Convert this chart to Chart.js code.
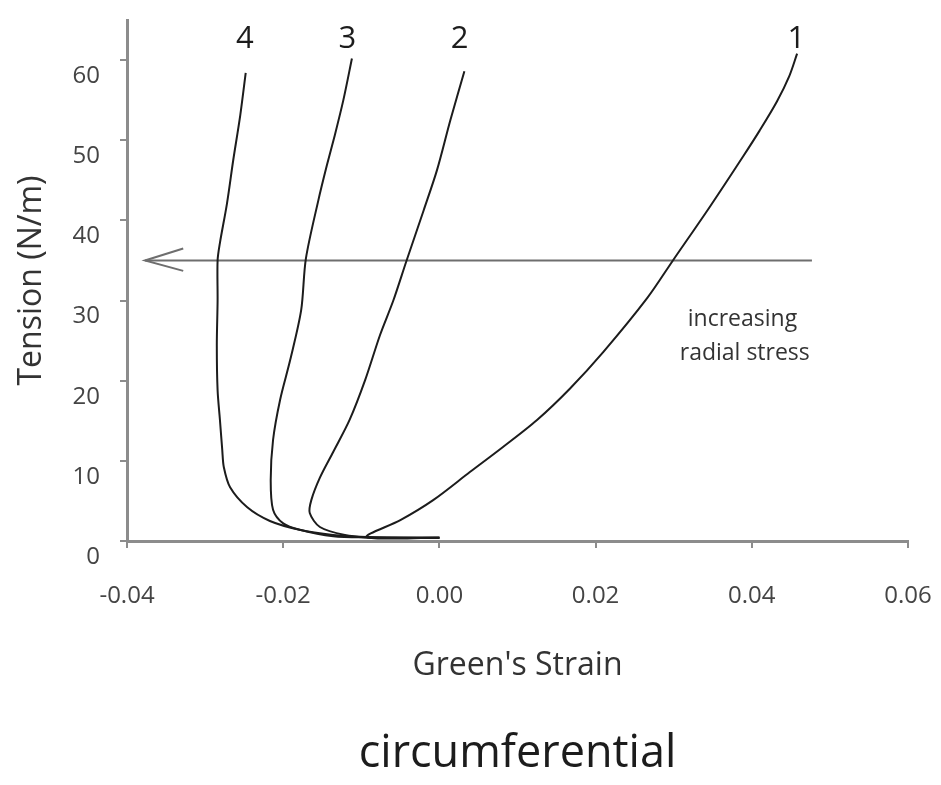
<!DOCTYPE html>
<html>
<head>
<meta charset="utf-8">
<script src="https://cdn.jsdelivr.net/npm/chart.js@4.4.1/dist/chart.umd.min.js"></script>
<style>
  html, body { margin: 0; padding: 0; background: #ffffff; }
  #wrap { width: 941px; height: 785px; }
</style>
</head>
<body>
<div id="wrap"><canvas id="c" width="941" height="785"></canvas></div>
<script>
// ---- data ----
const curve1X = [0.0, -0.0093, -0.0050, -0.0008, 0.0039, 0.0081, 0.0125, 0.0167, 0.0210, 0.0266, 0.0299, 0.0347, 0.0389, 0.0410, 0.0432, 0.0448, 0.0458];
const curve1Y = [0.4, 0.5, 2.6, 5.1, 8.6, 11.7, 15.1, 19.0, 23.6, 30.3, 35.0, 41.8, 48.0, 51.2, 54.8, 58.0, 60.8];

const curve2X = [0.0, -0.0093, -0.0121, -0.0153, -0.0166, -0.0164, -0.0153, -0.0136, -0.0115, -0.0095, -0.0076, -0.0059, -0.0042, -0.0020, -0.0003, 0.0014, 0.0032];
const curve2Y = [0.4, 0.5, 0.75, 1.75, 3.5, 5.1, 7.9, 11.1, 15.1, 20.1, 25.7, 30.0, 35.0, 41.3, 46.3, 52.5, 58.6];

const curve3X = [0.0, -0.0093, -0.0136, -0.0179, -0.0200, -0.0213, -0.0216, -0.0213, -0.0204, -0.0191, -0.0177, -0.0171, -0.0155, -0.0144, -0.0134, -0.0123, -0.0112];
const curve3Y = [0.4, 0.45, 0.6, 1.4, 2.2, 3.9, 7.6, 12.6, 17.6, 22.6, 28.8, 35.2, 42.5, 46.9, 50.6, 55.0, 60.2];

const curve4X = [0.0, -0.0093, -0.0136, -0.0179, -0.0217, -0.0246, -0.0268, -0.0276, -0.0278, -0.0281, -0.0284, -0.0285, -0.0284, -0.0284, -0.0281, -0.0272, -0.0264, -0.0255, -0.0248];
const curve4Y = [0.4, 0.45, 0.75, 1.4, 2.5, 4.2, 6.7, 9.2, 11.3, 15.1, 18.8, 24.4, 30.0, 35.0, 37.2, 42.1, 47.5, 53.1, 58.4];

// arrow "increasing radial stress"
const arrowLineX = [0.0477, -0.0377];
const arrowLineY = [35, 35];
const arrowHeadX = [-0.0328, -0.0377, -0.0328];
const arrowHeadY = [36.5, 35, 33.7];

// curve number labels
const curveLabels = ['1', '2', '3', '4'];
const curveLabelX = [0.0457, 0.0026, -0.0118, -0.0249];
const curveLabelY = [62.6, 62.6, 62.6, 62.6];

// annotation text
const noteLines = ['increasing', 'radial stress'];
const noteX = [0.0388, 0.0391];
const noteY = [27.6, 23.4];

// axes
const xTickLabels = ['-0.04', '-0.02', '0.00', '0.02', '0.04', '0.06'];
const yTickLabels = ['0', '10', '20', '30', '40', '50', '60'];
const xTitle = "Green's Strain";
const yTitle = 'Tension (N/m)';
const chartTitle = 'circumferential';

// ---- build ----
const toPts = (xs, ys) => xs.map((x, i) => ({ x: x, y: ys[i] }));
const curveColor = '#1c1c1c';
const axisColor = '#8c8c8c';
const FONT = "'Open Sans', 'DejaVu Sans', sans-serif";

function curveDs(xs, ys) {
  return { data: toPts(xs, ys), showLine: true, borderColor: curveColor, borderWidth: 2,
           pointRadius: 0, tension: 0.3, fill: false };
}

const textPlugin = {
  id: 'textPlugin',
  afterDatasetsDraw(chart) {
    const { ctx, scales: { x, y } } = chart;
    ctx.save();
    ctx.textAlign = 'center';
    ctx.textBaseline = 'middle';
    ctx.fillStyle = '#1c1c1c';
    ctx.font = "31px " + FONT;
    curveLabels.forEach((t, i) => {
      ctx.fillText(t, x.getPixelForValue(curveLabelX[i]), y.getPixelForValue(curveLabelY[i]));
    });
    ctx.fillStyle = '#333333';
    ctx.font = "23px " + FONT;
    noteLines.forEach((t, i) => {
      ctx.fillText(t, x.getPixelForValue(noteX[i]), y.getPixelForValue(noteY[i]));
    });
    ctx.restore();
  }
};

new Chart(document.getElementById('c'), {
  type: 'scatter',
  data: {
    datasets: [
      curveDs(curve1X, curve1Y),
      curveDs(curve2X, curve2Y),
      curveDs(curve3X, curve3Y),
      curveDs(curve4X, curve4Y),
      { data: toPts(arrowLineX, arrowLineY), showLine: true, borderColor: '#6e6e6e', borderWidth: 2, pointRadius: 0, tension: 0 },
      { data: toPts(arrowHeadX, arrowHeadY), showLine: true, borderColor: '#6e6e6e', borderWidth: 2, pointRadius: 0, tension: 0 }
    ]
  },
  options: {
    responsive: false,
    animation: false,
    layout: { padding: { left: 0, right: 33, top: 20, bottom: 0 } },
    plugins: {
      legend: { display: false },
      tooltip: { enabled: false },
      title: {
        display: true, position: 'bottom', fullSize: false, text: chartTitle,
        color: '#1c1c1c', font: { family: FONT, size: 45, weight: 'normal', lineHeight: 1.2 },
        padding: { top: 0, bottom: 4 }
      }
    },
    scales: {
      x: {
        type: 'linear', min: -0.04, max: 0.06,
        afterFit(scale) { scale.height = 186; scale.paddingLeft = 0; scale.paddingRight = 0; },
        ticks: {
          stepSize: 0.02, maxRotation: 0, autoSkip: false, padding: 34,
          color: '#444444', font: { family: FONT, size: 24 },
          callback: (v, i) => xTickLabels[i]
        },
        grid: { display: true, drawOnChartArea: false, drawTicks: true, tickLength: 7, color: axisColor, lineWidth: 2 },
        border: { display: true, color: axisColor, width: 3 },
        title: { display: true, text: xTitle, color: '#333333',
                 font: { family: FONT, size: 32, lineHeight: 1.2 }, padding: { top: 0, bottom: 42 } }
      },
      y: {
        type: 'linear', min: 0, max: 65,
        afterFit(scale) { scale.width = 127; scale.paddingTop = 0; scale.paddingBottom = 0; },
        afterBuildTicks(scale) { scale.ticks = scale.ticks.filter(t => t.value % 10 === 0); },
        ticks: {
          stepSize: 10, padding: 20, labelOffset: 16,
          color: '#444444', font: { family: FONT, size: 24 },
          callback: (v, i) => yTickLabels[i]
        },
        grid: { display: true, drawOnChartArea: false, drawTicks: true, tickLength: 7, color: axisColor, lineWidth: 2 },
        border: { display: true, color: axisColor, width: 3 },
        title: { display: true, text: yTitle, color: '#333333',
                 font: { family: FONT, size: 32, lineHeight: 1.2 }, padding: { top: 13, bottom: 0 } }
      }
    }
  },
  plugins: [textPlugin]
});
</script>
</body>
</html>
